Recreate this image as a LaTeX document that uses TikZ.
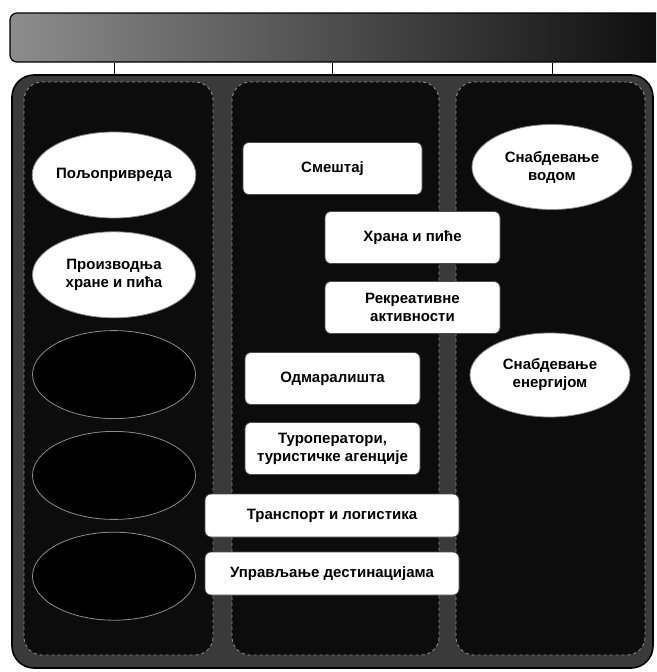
\documentclass[tikz,border=0pt]{standalone}
\usepackage{fontspec}
\setmainfont{Liberation Sans}
\usepackage{xcolor}
\usetikzlibrary{positioning,shapes.geometric}
\definecolor{scanInk}{HTML}{0C0C0C}
\definecolor{scanGrey}{HTML}{3A3A3A}
\definecolor{scanRim}{HTML}{8C8C8C}

\begin{document}
\begin{tikzpicture}[
  x=1pt, y=-1pt,
  font=\bfseries\fontsize{15}{18}\selectfont,
  banner/.style={draw=black, line width=1.2pt, rounded corners=7pt, minimum width=660pt, minimum height=49pt, left color=black!45, right color=scanInk},
  panel/.style={draw=black, line width=1.6pt, rounded corners=22pt, minimum width=641pt, minimum height=593pt, fill=scanGrey},
  lane/.style={draw=scanRim, dashed, line width=.9pt, rounded corners=18pt, minimum height=573pt, fill=scanInk},
  sector/.style={ellipse, draw=scanRim, line width=.8pt, fill=white, minimum width=163pt, minimum height=86pt, inner sep=0pt, align=center},
  darkoval/.style={ellipse, draw=scanRim, line width=.8pt, fill=black, minimum width=163pt, minimum height=88pt},
  service/.style={draw=black!70, line width=.8pt, rounded corners=6pt, fill=white, minimum width=175pt, minimum height=52pt, inner sep=0pt, align=center},
  wideservice/.style={service, minimum width=254pt, minimum height=43pt},
  link/.style={line width=1pt, draw=black}
]
  \clip (0,0) rectangle (656,672);
  \fill[white] (0,0) rectangle (656,672);

  \node[banner] (banner) at (340,37.5) {};
  \node[panel] (panel) at (332.5,371.5) {};
  \node[lane, minimum width=189pt] (laneL) at (118.5,368.5) {};
  \node[lane, minimum width=207pt] (laneM) at (335.5,368.5) {};
  \node[lane, minimum width=189pt] (laneR) at (550.5,368.5) {};

  \node[sector] (agri) at (114,175) {Пољопривреда};
  \node[sector, below=13pt of agri] (food) {Производња\\хране и пића};
  \node[darkoval, below=12pt of food] (dark1) {};
  \node[darkoval, below=12pt of dark1] (dark2) {};
  \node[darkoval, below=12pt of dark2] (dark3) {};

  \node[service, minimum width=179pt] (lodging) at (332.5,168.5) {Смештај};
  \node[service] (dining) at (412.5,237.5) {Храна и пиће};
  \node[service] (leisure) at (412.5,307.5) {Рекреативне\\активности};
  \node[service] (resorts) at (332.5,378.5) {Одмаралишта};
  \node[service] (agents) at (332.5,448.5) {Туроператори,\\туристичке агенције};
  \node[wideservice] (transport) at (332,515.5) {Транспорт и логистика};
  \node[wideservice] (destination) at (332,573.5) {Управљање дестинацијама};

  \node[sector, minimum width=160pt, minimum height=85pt] (water) at (552,167) {Снабдевање\\водом};
  \node[sector, minimum width=160pt, minimum height=84pt] (energy) at (550,375) {Снабдевање\\енергијом};

  \draw[link] (banner.south -| agri) -- (panel.north -| agri);
  \draw[link] (banner.south -| lodging) -- (panel.north -| lodging);
  \draw[link] (banner.south -| water) -- (panel.north -| water);
\end{tikzpicture}
\end{document}
